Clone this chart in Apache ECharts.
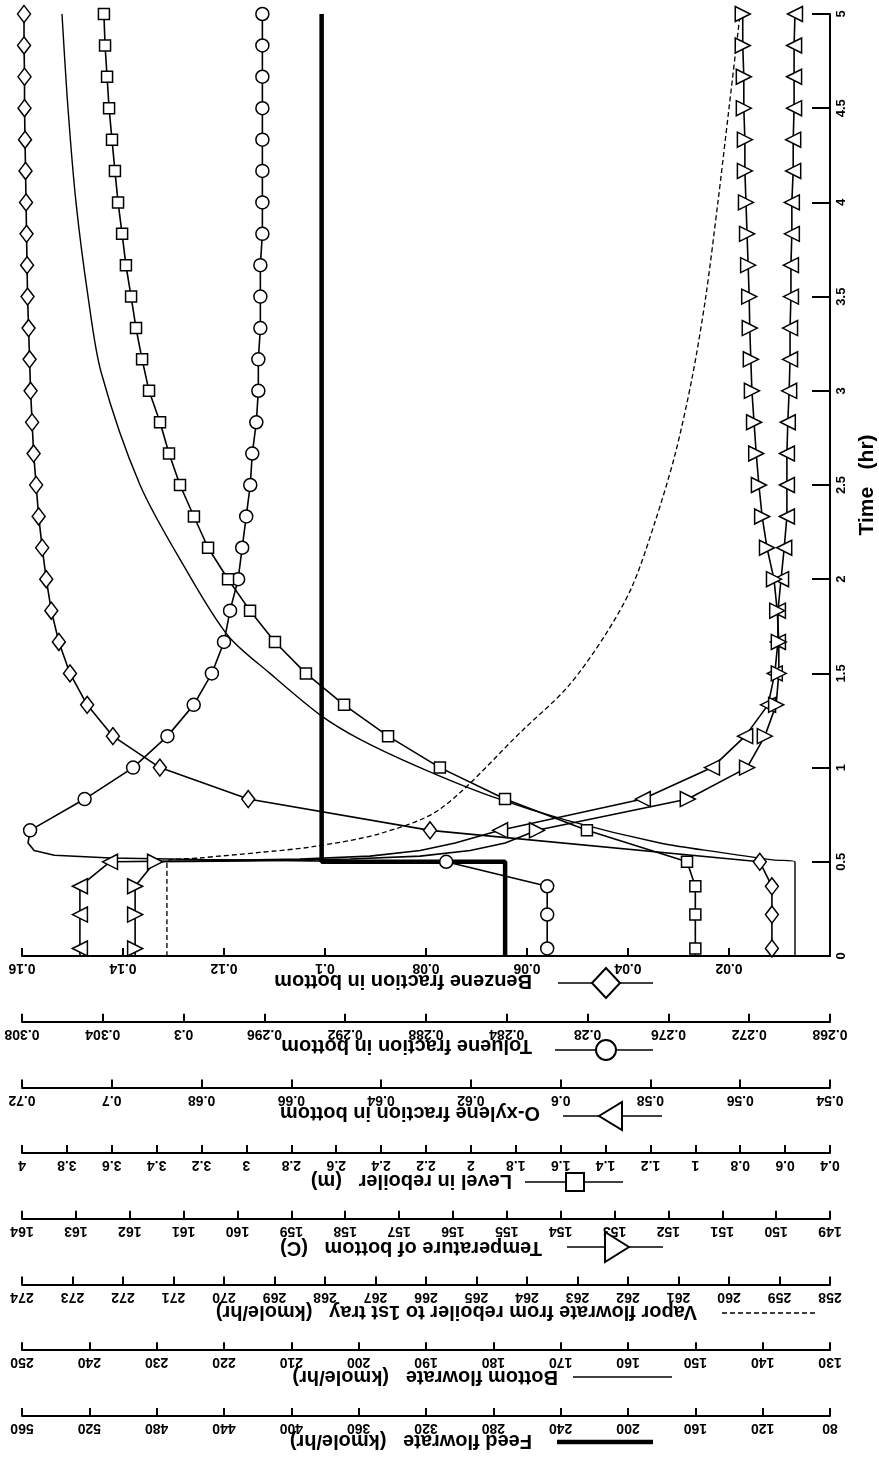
<!DOCTYPE html>
<html>
<head>
<meta charset="utf-8">
<script src="https://cdn.jsdelivr.net/npm/echarts/dist/echarts.min.js"></script>
<style>
  html, body { margin: 0; padding: 0; background: #fff; }
  #chart { width: 879px; height: 1464px; }
</style>
</head>
<body>
<div id="chart"></div>
<script>
// Reboiler response to a feed step at t = 0.5 hr (time runs up the right-hand axis)

// Sample times that carry a marker (hr)
const markTimes = [0.04, 0.22, 0.37, 0.5, 0.667, 0.833, 1.0, 1.167, 1.333, 1.5, 1.667, 1.833, 2.0,
  2.167, 2.333, 2.5, 2.667, 2.833, 3.0, 3.167, 3.333, 3.5, 3.667, 3.833, 4.0, 4.167, 4.333, 4.5,
  4.667, 4.833, 5.0];

// Benzene fraction in bottom
const benzeneMark = [0.0115, 0.0115, 0.0115, 0.0139, 0.0792, 0.1152, 0.1327, 0.1420, 0.1471, 0.1505,
  0.1527, 0.1542, 0.1552, 0.1560, 0.1567, 0.1572, 0.1577, 0.1580, 0.1583, 0.1585, 0.1587, 0.1589,
  0.1590, 0.1591, 0.1592, 0.1593, 0.1594, 0.1595, 0.1595, 0.1596, 0.1596];
const benzeneExtraT = [0];
const benzeneExtraV = [0.0115];

// Toluene fraction in bottom
const tolueneMark = [0.2820, 0.2820, 0.2820, 0.2870, 0.3076, 0.3049, 0.3025, 0.3008, 0.2995, 0.2986,
  0.2980, 0.2977, 0.2973, 0.2971, 0.2969, 0.2967, 0.2966, 0.2964, 0.2963, 0.2963, 0.2962, 0.2962,
  0.2962, 0.2961, 0.2961, 0.2961, 0.2961, 0.2961, 0.2961, 0.2961, 0.2961];
const tolueneExtraT = [0, 0.505, 0.512, 0.52, 0.535, 0.56, 0.6];
const tolueneExtraV = [0.2820, 0.2936, 0.2992, 0.3036, 0.3064, 0.3074, 0.3077];

// O-xylene fraction in bottom
const xyleneMark = [0.7071, 0.7071, 0.7071, 0.7004, 0.6135, 0.5817, 0.5663, 0.5589, 0.5538, 0.5523,
  0.5516, 0.5516, 0.5509, 0.5502, 0.5496, 0.5496, 0.5496, 0.5494, 0.5491, 0.5489, 0.5489, 0.5487,
  0.5487, 0.5485, 0.5485, 0.5482, 0.5482, 0.5480, 0.5480, 0.5480, 0.5478];
const xyleneExtraT = [0, 0.505, 0.515, 0.53, 0.56, 0.6];
const xyleneExtraV = [0.7071, 0.6803, 0.6581, 0.6425, 0.6313, 0.6235];

// Level in reboiler (m)
const levelMark = [1.0, 1.0, 1.0, 1.037, 1.483, 1.848, 2.138, 2.369, 2.565, 2.735, 2.873, 2.984,
  3.082, 3.171, 3.234, 3.296, 3.345, 3.385, 3.434, 3.465, 3.492, 3.514, 3.537, 3.554, 3.572, 3.586,
  3.599, 3.612, 3.621, 3.630, 3.635];
const levelExtraT = [0];
const levelExtraV = [1.0];

// Temperature of bottom (C)
const tempMark = [161.9, 161.9, 161.9, 161.53, 154.44, 151.64, 150.54, 150.21, 150.00, 149.95,
  149.95, 149.98, 150.04, 150.17, 150.26, 150.32, 150.37, 150.41, 150.45, 150.47, 150.49, 150.50,
  150.52, 150.54, 150.56, 150.58, 150.58, 150.60, 150.60, 150.62, 150.62];
const tempExtraT = [0, 0.505, 0.515, 0.53, 0.56, 0.6];
const tempExtraV = [161.9, 159.77, 157.91, 156.61, 155.68, 155.03];

// Vapor flowrate from reboiler to 1st tray (kmole/hr)
const vaporT = [0, 0.5, 0.52, 0.55, 0.58, 0.65, 0.78, 1.2, 1.43, 1.7, 1.96, 2.3, 2.66, 3.07, 3.5, 4.0, 4.5, 5.0];
const vaporV = [271.13, 271.13, 270.48, 269.29, 268.24, 266.91, 265.72, 264.08, 263.19, 262.46,
  261.92, 261.47, 261.07, 260.73, 260.46, 260.22, 260.00, 259.78];

// Bottom flowrate (kmole/hr)
const bottomT = [0, 0.5, 0.51, 0.55, 0.6, 0.72, 0.85, 1.0, 1.15, 1.28, 1.5, 1.7, 2.06, 2.5, 3.1, 3.5, 4.0, 4.5, 5.0];
const bottomV = [135.2, 135.2, 138.47, 146.34, 155.25, 169.06, 180.50, 190.89, 199.80, 205.74,
  213.17, 219.40, 225.79, 232.47, 238.26, 240.19, 241.98, 243.17, 244.06];

// Feed flowrate (kmole/hr): step change
const feedT = [0, 0.5, 0.5, 5.0];
const feedV = [273, 273, 382, 382];

// Value axes stacked under the plot, top to bottom
const axisTitles = [
  'Benzene fraction in bottom',
  'Toluene fraction in bottom',
  'O-xylene fraction in bottom',
  'Level in reboiler   (m)',
  'Temperature of bottom   (C)',
  'Vapor flowrate from reboiler to 1st tray   (kmole/hr)',
  'Bottom flowrate   (kmole/hr)',
  'Feed flowrate   (kmole/hr)'
];
const axisMin = [0, 0.268, 0.54, 0.4, 149, 258, 130, 80];
const axisMax = [0.16, 0.308, 0.72, 4, 164, 274, 250, 560];
const axisStep = [0.02, 0.004, 0.02, 0.2, 1, 1, 10, 40];

// Time axis
const timeMin = 0, timeMax = 5, timeStep = 0.5;
const timeTitle = 'Time   (hr)';

const FONT = '"Liberation Sans", Arial, sans-serif';
const AXIS_GAP = 65.7;

function pairs(xs, ts, extraT, extraV) {
  const out = [];
  ts.forEach((t, i) => out.push({ value: [xs[i], t] }));
  (extraT || []).forEach((t, i) => out.push({ value: [extraV[i], t], symbol: 'none' }));
  out.sort((a, b) => a.value[1] - b.value[1]);
  return out;
}
function plain(ts, vs) {
  return ts.map((t, i) => [vs[i], t]);
}

const xAxes = axisMin.map((mn, i) => ({
  type: 'value',
  gridIndex: 0,
  position: 'bottom',
  offset: i * AXIS_GAP,
  min: mn,
  max: axisMax[i],
  interval: axisStep[i],
  inverse: true,
  splitLine: { show: false },
  axisLine: { show: true, onZero: false, lineStyle: { color: '#000', width: 2 } },
  axisTick: { show: true, inside: true, length: 8, lineStyle: { color: '#000', width: 2 } },
  axisLabel: {
    show: true, rotate: 180, margin: 5, color: '#000',
    fontFamily: FONT, fontWeight: 'bold', fontSize: 14,
    showMinLabel: i !== 0, showMaxLabel: true, hideOverlap: false
  }
}));

const base = {
  type: 'line',
  yAxisIndex: 0,
  clip: false,
  showAllSymbol: true,
  animation: false,
  lineStyle: { color: '#000', width: 1.6 },
  itemStyle: { color: '#fff', borderColor: '#000', borderWidth: 1.5 },
  emphasis: { disabled: true },
  z: 3
};

const series = [
  Object.assign({}, base, { name: axisTitles[0], xAxisIndex: 0, symbol: 'diamond', symbolSize: [13, 17],
    data: pairs(benzeneMark, markTimes, benzeneExtraT, benzeneExtraV) }),
  Object.assign({}, base, { name: axisTitles[1], xAxisIndex: 1, symbol: 'circle', symbolSize: 13,
    data: pairs(tolueneMark, markTimes, tolueneExtraT, tolueneExtraV) }),
  Object.assign({}, base, { name: axisTitles[2], xAxisIndex: 2, symbol: 'triangle', symbolSize: [15, 15], symbolRotate: 90,
    data: pairs(xyleneMark, markTimes, xyleneExtraT, xyleneExtraV) }),
  Object.assign({}, base, { name: axisTitles[3], xAxisIndex: 3, symbol: 'rect', symbolSize: 11,
    data: pairs(levelMark, markTimes, levelExtraT, levelExtraV) }),
  Object.assign({}, base, { name: axisTitles[4], xAxisIndex: 4, symbol: 'triangle', symbolSize: [15, 15], symbolRotate: -90,
    data: pairs(tempMark, markTimes, tempExtraT, tempExtraV) }),
  Object.assign({}, base, { name: axisTitles[5], xAxisIndex: 5, symbol: 'none', smooth: 0.3,
    lineStyle: { color: '#000', width: 1.3, type: [5, 3] }, data: plain(vaporT, vaporV) }),
  Object.assign({}, base, { name: axisTitles[6], xAxisIndex: 6, symbol: 'none', smooth: 0.3,
    lineStyle: { color: '#000', width: 1.4 }, data: plain(bottomT, bottomV) }),
  Object.assign({}, base, { name: axisTitles[7], xAxisIndex: 7, symbol: 'none',
    lineStyle: { color: '#000', width: 4.5 }, data: plain(feedT, feedV) })
];

// Axis titles (set upside down like the tick labels) with their line keys
const titleAnchors = [[532, 981], [532, 1046], [540, 1113], [512, 1181], [542, 1248], [697, 1312], [558, 1377], [532, 1441]];
const keyLines = [[558, 653, 983], [555, 653, 1050], [563, 662, 1116], [525, 623, 1182], [567, 663, 1247], [722, 818, 1313], [573, 672, 1377], [557, 653, 1442]];
const keyStyles = [
  { lineWidth: 1.6 }, { lineWidth: 1.6 }, { lineWidth: 1.6 }, { lineWidth: 1.6 },
  { lineWidth: 1.6 }, { lineWidth: 1.4, lineDash: [5, 3] }, { lineWidth: 1.6 }, { lineWidth: 4.5 }
];

const graphics = [];
axisTitles.forEach((txt, i) => {
  graphics.push({
    type: 'text', x: titleAnchors[i][0], y: titleAnchors[i][1], rotation: Math.PI, silent: true,
    style: { text: txt, fill: '#000', font: 'bold 20px ' + FONT, textAlign: 'left', textVerticalAlign: 'middle' }
  });
  const k = keyLines[i];
  graphics.push({
    type: 'line', silent: true, shape: { x1: k[0], y1: k[2], x2: k[1], y2: k[2] },
    style: Object.assign({ stroke: '#000' }, keyStyles[i])
  });
});
const keyMark = { fill: '#fff', stroke: '#000', lineWidth: 2 };
graphics.push({ type: 'polygon', silent: true, z: 10, shape: { points: [[606, 968], [620, 983], [606, 998], [592, 983]] }, style: keyMark });
graphics.push({ type: 'circle', silent: true, z: 10, shape: { cx: 606, cy: 1050, r: 10 }, style: keyMark });
graphics.push({ type: 'polygon', silent: true, z: 10, shape: { points: [[599, 1116], [622, 1102], [622, 1130]] }, style: keyMark });
graphics.push({ type: 'rect', silent: true, z: 10, shape: { x: 566, y: 1173, width: 18, height: 18 }, style: keyMark });
graphics.push({ type: 'polygon', silent: true, z: 10, shape: { points: [[629, 1247], [605, 1232], [605, 1262]] }, style: keyMark });

const chart = echarts.init(document.getElementById('chart'), null, { renderer: 'canvas' });
chart.setOption({
  backgroundColor: '#fff',
  animation: false,
  grid: { left: 22, right: 49, top: 14, bottom: 508, containLabel: false, outerBoundsMode: 'none' },
  xAxis: xAxes,
  yAxis: [{
    type: 'value',
    position: 'right',
    min: timeMin, max: timeMax, interval: timeStep,
    name: timeTitle,
    nameLocation: 'middle',
    nameRotate: 90,
    nameGap: 27,
    nameTextStyle: { color: '#000', fontFamily: FONT, fontWeight: 'bold', fontSize: 21 },
    splitLine: { show: false },
    axisLine: { show: true, onZero: false, lineStyle: { color: '#000', width: 2 } },
    axisTick: { show: true, inside: true, length: 18, lineStyle: { color: '#000', width: 2 } },
    axisLabel: { show: true, rotate: 90, margin: 5, color: '#000', fontFamily: FONT, fontWeight: 'bold', fontSize: 13 }
  }],
  series: series,
  graphic: graphics
});
</script>
</body>
</html>
